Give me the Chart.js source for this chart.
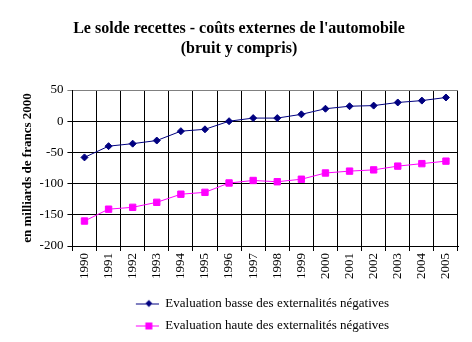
<!DOCTYPE html>
<html>
<head>
<meta charset="utf-8">
<script src="https://cdn.jsdelivr.net/npm/chart.js@4"></script>
<style>
  html, body { margin: 0; padding: 0; background: #fff; }
  #wrap { width: 472px; height: 342px; }
</style>
</head>
<body>
<div id="wrap"><canvas id="chart" width="472" height="342"></canvas></div>
<script>
const years = ["1990", "1991", "1992", "1993", "1994", "1995", "1996", "1997",
               "1998", "1999", "2000", "2001", "2002", "2003", "2004", "2005"];
const basse = [-58, -40, -36, -31, -16, -13, 0, 5, 5, 11, 20, 24, 25, 30, 33, 38];
const haute = [-160, -141, -138, -130, -117, -114, -99, -95, -97, -93, -83, -80, -78, -72, -68, -64];
const seriesNames = ["Evaluation basse des externalités négatives",
                     "Evaluation haute des externalités négatives"];

const FONT = "'Liberation Serif', 'Times New Roman', serif";

// line + marker picture for the legend, drawn at the right end of a wider transparent box
// (the extra width pushes the centred legend to the right like in the original)
function legendIcon(color, shape) {
    var c = document.createElement("canvas");
    c.width = 70;
    c.height = 10;
    var g = c.getContext("2d");
    var x0 = 47, x1 = 72, mid = 60;
    g.strokeStyle = color;
    g.lineWidth = 1;
    g.beginPath();
    g.moveTo(x0, 5.5);
    g.lineTo(x1, 5.5);
    g.stroke();
    g.fillStyle = color;
    g.beginPath();
    if (shape === "diamond") {
        g.moveTo(mid, 1.5); g.lineTo(mid + 3.5, 5); g.lineTo(mid, 8.5); g.lineTo(mid - 3.5, 5);
    } else {
        g.rect(mid - 3.5, 2, 7, 7);
    }
    g.fill();
    return c;
}

const icons = [legendIcon("#000080", "diamond"), legendIcon("#ff00ff", "square")];

new Chart(document.getElementById("chart"), {
    type: "line",
    data: {
        labels: years,
        datasets: [{
            label: seriesNames[0],
            data: basse,
            borderColor: "#000080",
            backgroundColor: "#000080",
            borderWidth: 1,
            pointStyle: "rectRot",
            pointRadius: 3.5,
            pointHoverRadius: 3.5,
            tension: 0
        }, {
            label: seriesNames[1],
            data: haute,
            borderColor: "#ff00ff",
            backgroundColor: "#ff00ff",
            borderWidth: 1,
            pointStyle: "rect",
            pointRadius: 4.5,
            pointHoverRadius: 4.5,
            tension: 0
        }]
    },
    options: {
        animation: false,
        responsive: false,
        layout: { padding: { left: 20, right: 14, top: 0, bottom: 0 } },
        plugins: {
            title: {
                display: true,
                text: ["Le solde recettes - coûts externes de l'automobile", "(bruit y compris)"],
                color: "#000",
                font: { family: FONT, size: 16, weight: "bold", lineHeight: 1.25 },
                padding: { top: 19, bottom: 31 }
            },
            legend: {
                position: "bottom",
                labels: {
                    color: "#000",
                    font: { family: FONT, size: 13 },
                    usePointStyle: true,
                    pointStyleWidth: 70,
                    boxHeight: 10,
                    padding: 9,
                    generateLabels: function (chart) {
                        return chart.data.datasets.map(function (ds, i) {
                            return {
                                text: ds.label,
                                fillStyle: ds.backgroundColor,
                                strokeStyle: ds.borderColor,
                                lineWidth: 0,
                                pointStyle: icons[i],
                                datasetIndex: i,
                                hidden: false
                            };
                        });
                    }
                }
            },
            tooltip: { enabled: false }
        },
        scales: {
            x: {
                type: "category",
                offset: true,
                grid: {
                    offset: true,
                    color: "#000",
                    lineWidth: 1,
                    tickLength: 5
                },
                border: { color: "#000", width: 1 },
                ticks: {
                    color: "#000",
                    font: { family: FONT, size: 13 },
                    maxRotation: 90,
                    minRotation: 90,
                    padding: 2,
                    autoSkip: false
                },
                afterFit: function (axis) {
                    axis.height += 7;
                }
            },
            y: {
                min: -200,
                max: 50,
                grid: {
                    color: function (ctx) {
                        return ctx.tick && ctx.tick.value === 50 ? "#808080" : "#000";
                    },
                    lineWidth: 1,
                    tickLength: 5
                },
                border: { color: "#000", width: 1 },
                ticks: {
                    stepSize: 50,
                    color: "#000",
                    font: { family: FONT, size: 13 },
                    padding: 4
                },
                title: {
                    display: true,
                    text: "en milliards de francs 2000",
                    color: "#000",
                    font: { family: FONT, size: 13, weight: "bold" },
                    padding: { top: 0, bottom: 0 }
                }
            }
        }
    }
});
</script>
</body>
</html>
